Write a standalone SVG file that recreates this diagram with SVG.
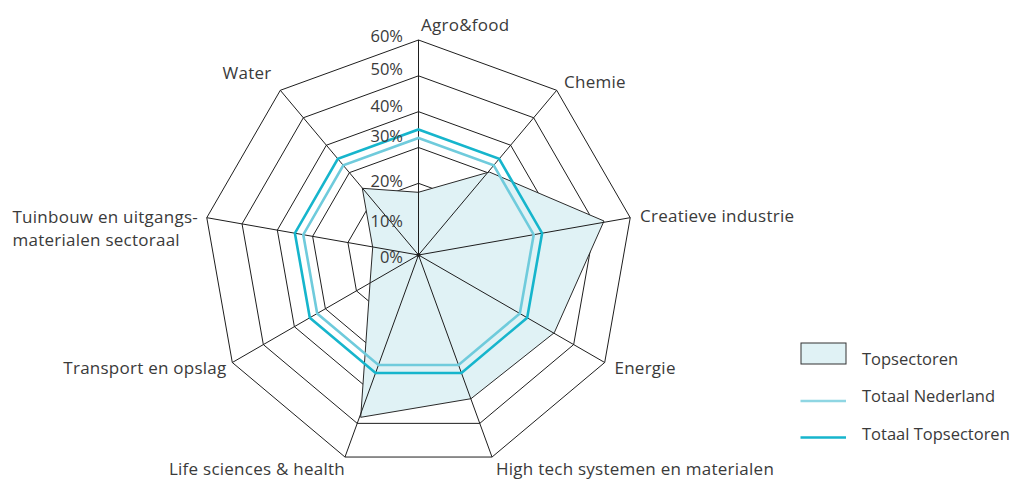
<svg xmlns="http://www.w3.org/2000/svg" width="1012" height="479" viewBox="0 0 1012 479">
<style>
  text { font-family: "Open Sans", "Noto Sans", "Liberation Sans", sans-serif; font-size: 16.5px; fill: #3a3a3a; }
  .lbl { font-size: 17px; letter-spacing: 0.25px; }
  .ring { fill: none; stroke: #1e1e1e; stroke-width: 1; }
  .axis { stroke: #1e1e1e; stroke-width: 1; }
  .data { fill: #e0f2f5; stroke: #2a2a2a; stroke-width: 1; stroke-linejoin: miter; }
  .nl { fill: none; stroke: #6fcbdc; stroke-width: 2.6; }
  .ts { fill: none; stroke: #16b5cc; stroke-width: 2.6; }
  .pct { text-anchor: end; }
</style>
<rect width="1012" height="479" fill="#ffffff"/>
<g id="grid">
  <polygon class="ring" points="418.5,219.17 441.53,227.55 453.79,248.78 449.53,272.92 430.76,288.67 406.24,288.67 387.47,272.92 383.21,248.78 395.47,227.55"/>
  <polygon class="ring" points="418.5,183.33 464.57,200.10 489.08,242.56 480.56,290.83 443.01,322.35 393.99,322.35 356.44,290.83 347.92,242.56 372.43,200.10"/>
  <polygon class="ring" points="418.5,147.5 487.60,172.65 524.37,236.34 511.60,308.75 455.27,356.02 381.73,356.02 325.40,308.75 312.63,236.34 349.40,172.65"/>
  <polygon class="ring" points="418.5,111.67 510.63,145.21 559.66,230.12 542.63,326.67 467.52,389.69 369.48,389.69 294.37,326.67 277.34,230.12 326.37,145.21"/>
  <polygon class="ring" points="418.5,75.83 533.67,117.76 594.94,223.90 573.66,344.58 479.77,423.36 357.23,423.36 263.34,344.58 242.06,223.90 303.33,117.76"/>
  <polygon class="ring" points="418.5,40 556.70,90.31 630.23,217.68 604.69,362.5 492.03,457.04 344.97,457.04 232.31,362.5 206.77,217.68 280.30,90.31"/>
</g>
<g id="series-topsectoren">
  <polygon class="data" points="418.3,192.3 489.3,172 604,221 554.3,332.7 471,398.7 360.7,417.3 370,283.3 372.7,247.3 362.3,188.3"/>
</g>
<g id="axes">
  <line class="axis" x1="418.5" y1="255" x2="418.5" y2="40"/>
  <line class="axis" x1="418.5" y1="255" x2="556.70" y2="90.31"/>
  <line class="axis" x1="418.5" y1="255" x2="630.23" y2="217.68"/>
  <line class="axis" x1="418.5" y1="255" x2="604.69" y2="362.5"/>
  <line class="axis" x1="418.5" y1="255" x2="492.03" y2="457.04"/>
  <line class="axis" x1="418.5" y1="255" x2="344.97" y2="457.04"/>
  <line class="axis" x1="418.5" y1="255" x2="232.31" y2="362.5"/>
  <line class="axis" x1="418.5" y1="255" x2="206.77" y2="217.68"/>
  <line class="axis" x1="418.5" y1="255" x2="280.30" y2="90.31"/>
  <circle cx="418.5" cy="255" r="2" fill="#1e1e1e"/>
</g>
<g id="series-totaal-nederland">
  <polygon class="nl" points="418.5,138 493.71,165.38 533.72,234.69 519.82,313.5 458.51,364.94 378.49,364.94 317.18,313.5 303.28,234.69 343.29,165.38"/>
</g>
<g id="series-totaal-topsectoren">
  <polygon class="ts" points="418.5,129.5 499.17,158.87 542.09,233.21 527.18,317.75 461.42,372.93 375.58,372.93 309.82,317.75 294.91,233.21 337.83,158.87"/>
</g>
<g id="scale-labels">
  <text class="pct" x="403" y="42">60%</text>
  <text class="pct" x="403" y="75">50%</text>
  <text class="pct" x="403" y="111.5">40%</text>
  <text class="pct" x="403" y="141.5">30%</text>
  <text class="pct" x="403" y="186.5">20%</text>
  <text class="pct" x="403" y="227">10%</text>
  <text class="pct" x="403" y="263">0%</text>
</g>
<g id="axis-labels">
  <g id="label-agro"><text class="lbl" x="421" y="31">Agro&amp;food</text></g>
  <g id="label-chemie"><text class="lbl" x="564" y="88">Chemie</text></g>
  <g id="label-creatieve"><text class="lbl" x="640" y="221.5">Creatieve industrie</text></g>
  <g id="label-energie"><text class="lbl" x="614.5" y="373.5">Energie</text></g>
  <g id="label-hightech"><text class="lbl" x="496" y="475">High tech systemen en materialen</text></g>
  <g id="label-life"><text class="lbl" x="345" y="475" text-anchor="end">Life sciences &amp; health</text></g>
  <g id="label-transport"><text class="lbl" x="226.5" y="374" text-anchor="end">Transport en opslag</text></g>
  <g id="label-tuinbouw"><text class="lbl" x="12.5" y="223">Tuinbouw en uitgangs-</text><text class="lbl" x="12.5" y="245.5">materialen sectoraal</text></g>
  <g id="label-water"><text class="lbl" x="222.5" y="79">Water</text></g>
</g>
<g id="legend">
  <g id="legend-topsectoren">
    <rect x="801" y="343" width="45" height="21" fill="#e0f2f5" stroke="#333333" stroke-width="1"/>
    <text x="862" y="365">Topsectoren</text>
  </g>
  <g id="legend-nederland">
    <line x1="800.5" y1="401" x2="846" y2="401" stroke="#8fd6e3" stroke-width="2.6"/>
    <text x="862" y="402">Totaal Nederland</text>
  </g>
  <g id="legend-totaal">
    <line x1="800.5" y1="437.5" x2="846" y2="437.5" stroke="#16b5cc" stroke-width="2.6"/>
    <text x="862" y="439.5">Totaal Topsectoren</text>
  </g>
</g>
</svg>
